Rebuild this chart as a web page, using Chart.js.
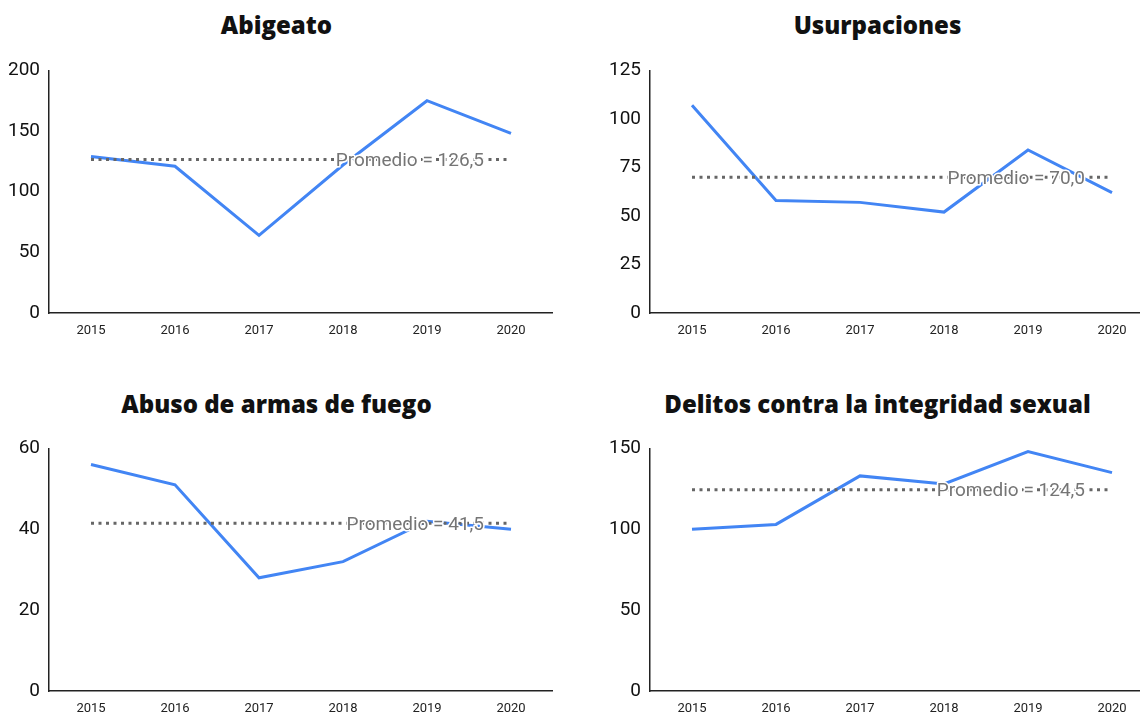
<!DOCTYPE html>
<html>
<head>
<meta charset="utf-8">
<script src="https://cdn.jsdelivr.net/npm/chart.js@4/dist/chart.umd.min.js"></script>
<style>
  html, body { margin: 0; padding: 0; background: #fff; overflow: hidden; }
  body { width: 1140px; height: 714px; position: relative; }
  .title {
    position: absolute; width: 553px; text-align: center; margin: 0;
    font-family: "Open Sans", sans-serif; font-weight: 800; font-size: 24px;
    color: #111; line-height: 30px;
  }
  canvas { position: absolute; }
</style>
</head>
<body>
<h2 class="title" style="left:0;top:10px">Abigeato</h2>
<h2 class="title" style="left:601px;top:10px">Usurpaciones</h2>
<h2 class="title" style="left:0;top:389px">Abuso de armas de fuego</h2>
<h2 class="title" style="left:601px;top:389px">Delitos contra la integridad sexual</h2>

<canvas id="c1" width="553" height="300" style="left:0;top:50px"></canvas>
<canvas id="c2" width="553" height="300" style="left:601px;top:50px"></canvas>
<canvas id="c3" width="553" height="300" style="left:0;top:428px"></canvas>
<canvas id="c4" width="553" height="300" style="left:601px;top:428px"></canvas>

<script>
const years = ["2015", "2016", "2017", "2018", "2019", "2020"];

const abigeato = [129, 121, 64, 122, 175, 148];
const usurpaciones = [107, 58, 57, 52, 84, 62];
const abusoArmas = [56, 51, 28, 32, 42, 40];
const delitosSexual = [100, 103, 133, 128, 148, 135];

const promedios = [126.5, 70.0, 41.5, 124.5];
const yMax = [200, 125, 60, 150];
const yStep = [50, 25, 20, 50];

// dotted average line + label drawn on top of the series
const averageLine = {
  id: "averageLine",
  afterDatasetsDraw(chart, args, opts) {
    const ctx = chart.ctx;
    const x = chart.scales.x;
    const y = chart.scales.y;
    const x0 = x.getPixelForValue(0);
    const x1 = x.getPixelForValue(years.length - 1);
    const py = y.getPixelForValue(opts.value);
    ctx.save();
    ctx.strokeStyle = "#666";
    ctx.lineWidth = 3;
    ctx.setLineDash([3, 4.5]);
    ctx.beginPath();
    ctx.moveTo(x0, py);
    ctx.lineTo(x1, py);
    ctx.stroke();
    ctx.setLineDash([]);
    const label = "Promedio = " + opts.value.toFixed(1).replace(".", ",");
    ctx.font = "19px Roboto";
    ctx.textAlign = "right";
    ctx.textBaseline = "middle";
    ctx.lineWidth = 3;
    ctx.strokeStyle = "#fff";
    ctx.lineJoin = "round";
    ctx.strokeText(label, x1 - 27, py + 2);
    ctx.fillStyle = "#757575";
    ctx.fillText(label, x1 - 27, py + 2);
    ctx.restore();
  }
};

function makeChart(id, values, avg, max, step) {
  new Chart(document.getElementById(id), {
    type: "line",
    data: {
      labels: years,
      datasets: [{
        data: values,
        borderColor: "#4285F4",
        borderWidth: 3,
        pointRadius: 0,
        tension: 0,
        fill: false
      }]
    },
    options: {
      responsive: false,
      animation: false,
      layout: { padding: { top: 1, left: 0, right: 0, bottom: 0 } },
      plugins: {
        legend: { display: false },
        tooltip: { enabled: false },
        averageLine: { value: avg }
      },
      scales: {
        x: {
          offset: true,
          grid: { display: false, drawTicks: false },
          border: { color: "#222", width: 1.5 },
          ticks: { color: "#222", padding: 10, font: { family: "Roboto", size: 13 }, maxRotation: 0 },
          afterFit(scale) { scale.height = 37; }
        },
        y: {
          min: 0,
          max: max,
          grid: { display: false, drawTicks: false },
          border: { color: "#222", width: 1.5 },
          ticks: { stepSize: step, color: "#111", padding: 9, font: { family: "Roboto", size: 19 } },
          afterFit(scale) { scale.width = 49; }
        }
      }
    },
    plugins: [averageLine]
  });
}

makeChart("c1", abigeato, promedios[0], yMax[0], yStep[0]);
makeChart("c2", usurpaciones, promedios[1], yMax[1], yStep[1]);
makeChart("c3", abusoArmas, promedios[2], yMax[2], yStep[2]);
makeChart("c4", delitosSexual, promedios[3], yMax[3], yStep[3]);
</script>
</body>
</html>
